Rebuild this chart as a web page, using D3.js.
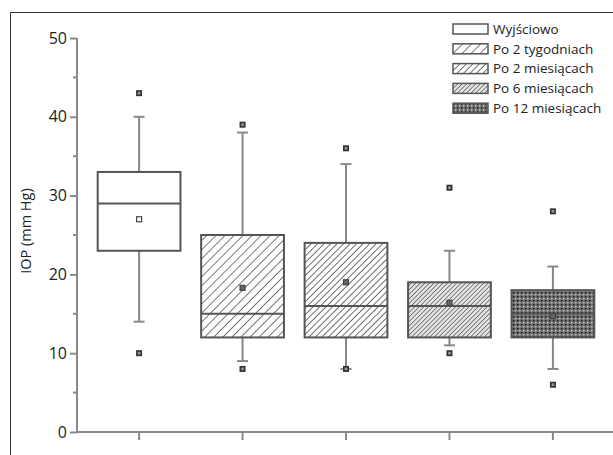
<!DOCTYPE html>
<html>
<head>
<meta charset="utf-8">
<script src="https://cdn.jsdelivr.net/npm/d3@7"></script>
<style>
  body { margin: 0; background: #fff; }
  svg { display: block; font-family: "Open Sans", sans-serif; }
</style>
</head>
<body>
<svg id="chart" width="613" height="455"></svg>
<script>
const categories = ["Wyjściowo", "Po 2 tygodniach", "Po 2 miesiącach", "Po 6 miesiącach", "Po 12 miesiącach"];
const q1 = [23, 12, 12, 12, 12];
const median = [29, 15, 16, 16, 15];
const q3 = [33, 25, 24, 19, 18];
const whiskerLow = [14, 9, 8, 11, 8];
const whiskerHigh = [40, 38, 34, 23, 21];
const means = [27, 18.3, 19, 16.4, 14.7];
const outlierHigh = [43, 39, 36, 31, 28];
const outlierLow = [10, 8, 8, 10, 6];
const yTicks = [0, 10, 20, 30, 40, 50];

const fills = ["#fff", "url(#hatch1)", "url(#hatch2)", "url(#hatch3)", "url(#dots)"];

const svg = d3.select("#chart");
const defs = svg.append("defs");

function hatch(id, size, color, width, bg) {
  const p = defs.append("pattern").attr("id", id)
    .attr("patternUnits", "userSpaceOnUse")
    .attr("width", size).attr("height", size)
    .attr("patternTransform", "rotate(45)");
  p.append("rect").attr("width", size).attr("height", size).attr("fill", bg);
  p.append("line").attr("x1", 0).attr("y1", 0).attr("x2", 0).attr("y2", size)
    .attr("stroke", color).attr("stroke-width", width);
}
hatch("hatch1", 6.4, "#222", 1.2, "#fff");
hatch("hatch2", 4.6, "#333", 1.4, "#fff");
hatch("hatch3", 3.2, "#555", 1.4, "#e4e4e4");

const dp = defs.append("pattern").attr("id", "dots")
  .attr("patternUnits", "userSpaceOnUse").attr("width", 4).attr("height", 4);
dp.append("rect").attr("width", 4).attr("height", 4).attr("fill", "#707070");
dp.append("rect").attr("x", 0).attr("y", 0).attr("width", 1.5).attr("height", 1.5).attr("fill", "#1a1a1a");
dp.append("rect").attr("x", 2).attr("y", 2).attr("width", 1.3).attr("height", 1.3).attr("fill", "#d0d0d0");

// frame
svg.append("path").attr("d", "M10.5,455 V12.5 H613")
  .attr("fill", "none").attr("stroke", "#333").attr("stroke-width", 1);

const y = d3.scaleLinear().domain([0, 50]).range([432, 38]);
const x = d3.scaleBand().domain(categories).range([77, 615]).padding(0.2);

const axisColor = "#8a8a8a";

// y axis
const yAxis = svg.append("g").attr("transform", "translate(77,0)")
  .call(d3.axisLeft(y).tickValues(yTicks).tickSize(7).tickPadding(3));
yAxis.select(".domain").attr("stroke", axisColor).attr("stroke-width", 2).attr("d", `M0,${y(50)}V${y(0)}`);
yAxis.selectAll(".tick line").attr("stroke", axisColor).attr("stroke-width", 2);
yAxis.selectAll(".tick text").attr("font-size", 16).attr("fill", "#222").attr("font-family", "Open Sans, sans-serif");

// minor ticks
svg.append("g").selectAll("line").data(d3.range(5, 50, 10)).join("line")
  .attr("x1", 73).attr("x2", 77).attr("y1", d => y(d)).attr("y2", d => y(d))
  .attr("stroke", axisColor).attr("stroke-width", 2);

// x axis
const xAxis = svg.append("g").attr("transform", `translate(0,${y(0)})`)
  .call(d3.axisBottom(x).tickSize(8).tickFormat(""));
xAxis.select(".domain").attr("stroke", axisColor).attr("stroke-width", 2).attr("d", `M77,0H613`);
xAxis.selectAll(".tick line").attr("stroke", axisColor).attr("stroke-width", 2);

svg.append("text")
  .attr("transform", `translate(31,${y(25.5)}) rotate(-90)`)
  .attr("text-anchor", "middle").attr("font-size", 14.5).attr("fill", "#222")
  .text("IOP (mm Hg)");

const boxColor = "#555";
const capW = 11;
const data = categories.map((c, i) => ({
  c, i, q1: q1[i], med: median[i], q3: q3[i], lo: whiskerLow[i], hi: whiskerHigh[i],
  mean: means[i], oh: outlierHigh[i], ol: outlierLow[i]
}));

const g = svg.append("g").selectAll("g").data(data).join("g")
  .attr("transform", d => `translate(${x(d.c) + x.bandwidth() / 2},0)`);

// whiskers
g.append("line").attr("x1", 0).attr("x2", 0).attr("y1", d => y(d.q3)).attr("y2", d => y(d.hi))
  .attr("stroke", "#888").attr("stroke-width", 2);
g.append("line").attr("x1", 0).attr("x2", 0).attr("y1", d => y(d.q1)).attr("y2", d => y(d.lo))
  .attr("stroke", "#888").attr("stroke-width", 2);
g.append("line").attr("x1", -capW / 2).attr("x2", capW / 2).attr("y1", d => y(d.hi)).attr("y2", d => y(d.hi))
  .attr("stroke", "#888").attr("stroke-width", 2);
g.append("line").attr("x1", -capW / 2).attr("x2", capW / 2).attr("y1", d => y(d.lo)).attr("y2", d => y(d.lo))
  .attr("stroke", "#888").attr("stroke-width", 2);

// boxes
g.append("rect")
  .attr("x", -x.bandwidth() / 2).attr("width", x.bandwidth())
  .attr("y", d => y(d.q3)).attr("height", d => y(d.q1) - y(d.q3))
  .attr("fill", d => fills[d.i]).attr("stroke", boxColor).attr("stroke-width", 2);
g.append("line").attr("x1", -x.bandwidth() / 2).attr("x2", x.bandwidth() / 2)
  .attr("y1", d => y(d.med)).attr("y2", d => y(d.med))
  .attr("stroke", boxColor).attr("stroke-width", 2);

// means
g.append("rect").attr("x", -2.5).attr("y", d => y(d.mean) - 2.5).attr("width", 5).attr("height", 5)
  .attr("fill", d => d.i === 0 ? "#fff" : "#666").attr("stroke", "#444").attr("stroke-width", 1.2);

// outliers
function outlier(sel, key) {
  const o = sel.append("g").attr("transform", d => `translate(0,${y(d[key])})`);
  o.append("rect").attr("x", -3).attr("y", -3).attr("width", 6).attr("height", 6).attr("fill", "#333");
  o.append("rect").attr("x", -1.3).attr("y", -1.3).attr("width", 2.6).attr("height", 2.6).attr("fill", "#999");
}
outlier(g, "oh");
outlier(g, "ol");

// legend
const legend = svg.append("g").selectAll("g").data(categories).join("g")
  .attr("transform", (d, i) => `translate(453,${24 + i * 19.8})`);
legend.append("rect").attr("width", 35).attr("height", 10)
  .attr("fill", (d, i) => fills[i]).attr("stroke", boxColor).attr("stroke-width", 1.5);
legend.append("text").attr("x", 40).attr("y", 5).attr("dy", "0.35em")
  .attr("font-size", 13.5).attr("fill", "#222").text(d => d);
</script>
</body>
</html>
